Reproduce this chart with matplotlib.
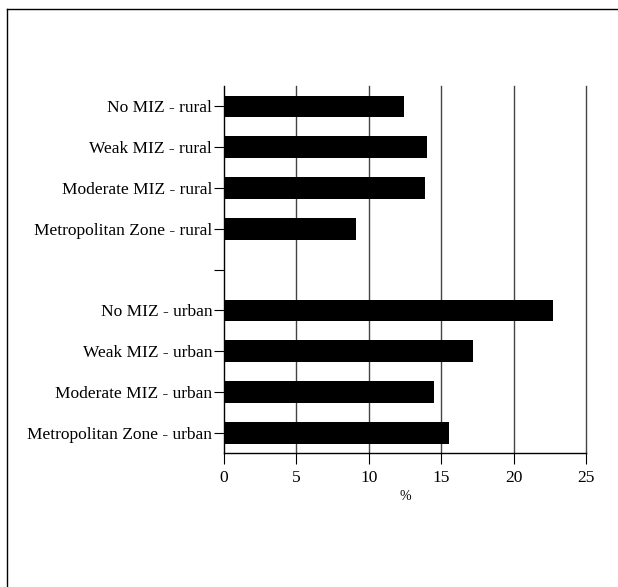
import matplotlib
matplotlib.use("Agg")
import matplotlib.pyplot as plt
from matplotlib.lines import Line2D

categories = [
    "No MIZ - rural",
    "Weak MIZ - rural",
    "Moderate MIZ - rural",
    "Metropolitan Zone - rural",
    "",
    "No MIZ - urban",
    "Weak MIZ - urban",
    "Moderate MIZ - urban",
    "Metropolitan Zone - urban",
]
values = [12.4, 14.0, 13.9, 9.1, 0.0, 22.7, 17.2, 14.5, 15.5]
xticks = [0, 5, 10, 15, 20, 25]

plt.rcParams['font.family'] = ['Liberation Serif', 'DejaVu Serif']

fig = plt.figure(figsize=(6.18, 5.87), dpi=100)
ax = fig.add_axes([0.3625, 0.2278, 0.5862, 0.6257])

ypos = list(range(len(categories)))
ax.barh(ypos, values, height=0.53, color='black', zorder=3)
ax.set_ylim(len(categories) - 0.5, -0.5)
ax.set_xlim(0, 25)
ax.set_yticks(ypos)
ax.set_yticklabels(categories, fontsize=12.5)
ax.set_xticks(xticks)
ax.set_xticklabels([str(t) for t in xticks], fontsize=12.5)
ax.set_xlabel("%", fontsize=10, labelpad=3)

for t in xticks[1:]:
    ax.axvline(t, color='#444444', linewidth=1.0, zorder=1, clip_on=False)

ax.spines['top'].set_visible(False)
ax.spines['right'].set_visible(False)
ax.spines['left'].set_linewidth(1.0)
ax.spines['bottom'].set_linewidth(1.0)
ax.tick_params(axis='y', length=7, width=0.8, pad=1.5)
ax.tick_params(axis='x', length=8, width=0.8, pad=4)

# figure frame (top and left edges)
fig.add_artist(Line2D([7/618, 1.0], [1 - 9/587, 1 - 9/587], transform=fig.transFigure, color='black', linewidth=1.0))
fig.add_artist(Line2D([7/618, 7/618], [0.0, 1 - 9/587], transform=fig.transFigure, color='black', linewidth=1.0))

fig.savefig("out.png", dpi=100)
